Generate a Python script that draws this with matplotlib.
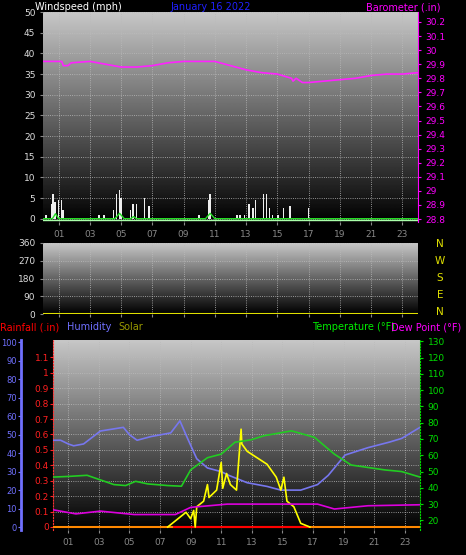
import numpy as np
import matplotlib.pyplot as plt

# ---- data ----
baro_t = [0, 1.2, 1.3, 1.6, 1.8, 3, 4, 5, 6, 7, 8, 9, 10, 11, 12, 13, 14, 15, 15.9, 16.0, 16.2, 16.6, 17, 18, 19, 20, 21, 22, 23, 24]
baro_v = [29.92, 29.92, 29.89, 29.89, 29.91, 29.92, 29.90, 29.88, 29.88, 29.89, 29.91, 29.92, 29.92, 29.92, 29.89,
          29.86, 29.84, 29.83, 29.80, 29.78, 29.80, 29.77, 29.77, 29.78, 29.79, 29.80, 29.82, 29.83, 29.83, 29.84]

gust_t = [0.2, 0.53, 0.64, 0.75, 1.0, 1.17, 1.27, 3.6, 3.9, 4.5, 4.7, 4.9, 5.0, 5.6, 5.77, 5.98, 6.5, 6.8,
          10.0, 10.6, 10.7, 12.4, 12.6, 12.9, 13.2, 13.45, 13.6, 14.1, 14.3, 14.5, 14.7, 15.05, 15.4, 15.8, 17.0]
gust_v = [1, 3.5, 6, 4, 4.5, 4.5, 2, 1, 1, 2, 6, 7, 5, 2, 3.5, 3.5, 5, 3, 1, 4.5, 6, 1, 1, 1, 3.5, 2.5, 4.5,
          6, 6, 2.5, 1, 1, 2.5, 3, 2.5]

avg_t = [0, 0.6, 0.8, 1.0, 4.6, 4.9, 5.2, 5.6, 5.8, 6.0, 10.4, 10.7, 11.0, 24]
avg_v = [0, 0, 1.2, 0, 0, 1.3, 0, 0, 0.5, 0, 0, 1.3, 0, 0]

hum_t = [0, 0.5, 1.0, 1.35, 2, 3.1, 4.6, 5.0, 5.5, 6.4, 7.7, 8.3, 8.8, 9.4, 10.1, 11.0, 11.5, 12.7, 14.0, 14.9, 16.2, 17.3, 18, 19.1, 20.6, 22, 22.8, 24]
hum_v = [47, 47, 45, 44, 45, 52, 54, 50, 47, 49, 51, 57.5, 48, 37, 32, 30, 28, 24, 22, 20, 20, 23, 28, 39, 43, 46, 48, 54]

temp_t = [0, 1, 2.23, 3.98, 4.75, 5.4, 6.2, 7.5, 8.4, 9.0, 10.1, 11.0, 11.9, 12.95, 13.8, 15.6, 17.1, 18.4, 19.5, 21.7, 22.8, 24]
temp_v = [46.6, 47, 47.7, 42, 41.4, 44, 42.4, 41.4, 41, 51, 58.5, 60.7, 68, 69.5, 72, 75, 71, 60.7, 54, 51, 50, 46.6]

dew_t = [0, 1.5, 3.1, 5.3, 8.0, 9.0, 11.4, 14.0, 17.3, 18.4, 20.6, 24]
dew_v = [26.5, 24, 25.7, 23.6, 23.6, 28, 30, 30, 30, 27, 29, 29.6]

solar_t = [7.5, 8.4, 8.7, 9.0, 9.2, 9.3, 9.4, 9.85, 10.1, 10.2, 10.7, 11.0, 11.1, 11.35, 11.6, 12.0, 12.3, 12.35,
           12.7, 14.0, 14.6, 14.9, 15.1, 15.3, 15.75, 16.2, 16.8]
solar_v = [0, 6, 8, 4.5, 9, 0, 11, 14, 23, 16, 20, 35, 21, 29, 23, 20, 53, 45, 41, 34, 27, 20, 27, 14, 11, 2, 0]

hour_ticks = list(range(1, 24, 2))
hour_labels = ['%02d' % h for h in hour_ticks]

W, H = 466, 555
fig = plt.figure(figsize=(W / 100, H / 100), dpi=100, facecolor='black')
FS = 6.5
HFS = 7
grad = np.linspace(0.78, 0.0, 256).reshape(-1, 1)


def box(x0, y0, x1, y1):
    return [x0 / W, 1 - y1 / H, (x1 - x0) / W, (y1 - y0) / H]


def style(ax):
    ax.set_facecolor('black')
    ax.imshow(grad, cmap='gray', vmin=0, vmax=1, aspect='auto', extent=[0, 1, 0, 1],
              transform=ax.transAxes, zorder=0)
    ax.set_xlim(0, 24)
    ax.set_xticks(hour_ticks)
    ax.set_xticklabels(hour_labels, color='#e0e000', fontsize=FS)
    ax.set_xticks(range(0, 25), minor=True)
    ax.grid(True, color='#bbbbbb', linestyle=':', linewidth=0.6)
    ax.tick_params(colors='#888888', length=2, labelsize=FS)
    for s in ax.spines.values():
        s.set_visible(False)


# ---- top: wind + barometer ----
ax1 = fig.add_axes(box(43, 12, 418, 222))
style(ax1)
ax1.set_ylim(-0.8, 50)
ax1.set_yticks(range(0, 51, 5))
ax1.tick_params(axis='y', labelcolor='#dddddd')
ax1.bar(gust_t, gust_v, width=0.1, color='#eeeeee', zorder=3)
ax1.plot(avg_t, avg_v, color='#22dd22', lw=1, zorder=4)
ax1.axhline(-0.4, color='#aaffaa', lw=1, zorder=4)
axb = ax1.twinx()
axb.set_ylim(28.779, 30.271)
bticks = np.round(np.arange(28.8, 30.21, 0.1), 1)
axb.set_yticks(bticks)
axb.set_yticklabels(['%g' % v for v in bticks])
axb.tick_params(colors='#ff00ff', labelsize=FS, length=2)
for s in axb.spines.values():
    s.set_visible(False)
axb.spines['right'].set_visible(True)
axb.spines['right'].set_color('#ff00ff')
axb.plot(baro_t, baro_v, color='#ff22ff', lw=1.2)
fig.text(35 / W, 1 - 7 / H, 'Windspeed (mph)', color='white', fontsize=HFS, va='center')
fig.text(211 / W, 1 - 7 / H, 'January 16 2022', color='#2020ff', fontsize=HFS, va='center', ha='center')
fig.text(440 / W, 1 - 7 / H, 'Barometer (.in)', color='#ff00ff', fontsize=HFS, va='center', ha='right')

# ---- middle: wind direction ----
ax2 = fig.add_axes(box(43, 243, 418, 314))
style(ax2)
ax2.set_ylim(0, 360)
ax2.set_yticks([0, 90, 180, 270, 360])
ax2.tick_params(axis='y', labelcolor='#dddddd')
ax2.set_xticklabels([])
ax2.axhline(2, color='#e0e000', lw=1.5, zorder=4)
for lab, yy in zip(['N', 'W', 'S', 'E', 'N'], [244, 261, 278, 295, 312]):
    fig.text(440 / W, 1 - yy / H, lab, color='#e0e000', fontsize=7.5, ha='center', va='center')

# ---- bottom: rain / humidity / solar / temp / dew ----
ax3 = fig.add_axes(box(53, 340, 420, 530))
style(ax3)
ax3.set_ylim(-0.0195, 1.213)
rticks = np.round(np.arange(0, 1.11, 0.1), 1)
ax3.set_yticks(rticks)
ax3.set_yticklabels(['%g' % v for v in rticks])
ax3.tick_params(axis='y', labelcolor='#ff2020', colors='#ff2020', pad=1)
ax3.spines['left'].set_visible(True)
ax3.spines['left'].set_color('#ff3030')
ax3.spines['left'].set_linestyle(':')
ax3.axhline(0, color='#ff8800', lw=1.5, zorder=3)
ax3.plot([7.9, 16.7], [0, 0], color='#ff0000', lw=1.5, zorder=3)

axh = ax3.twinx()
axh.yaxis.set_ticks_position('left')
axh.yaxis.set_label_position('left')
for s in axh.spines.values():
    s.set_visible(False)
axh.spines['left'].set_visible(True)
axh.spines['left'].set_position(('outward', 23))
axh.spines['left'].set_color('#7070ff')
axh.spines['left'].set_linewidth(2)
axh.set_ylim(-1.6, 101.3)
axh.set_yticks(range(0, 101, 10))
axh.tick_params(colors='#7070ff', labelsize=6, length=2, pad=1)
axh.plot(hum_t, hum_v, color='#7777ee', lw=1.2)
axh.plot(solar_t, solar_v, color='#ffff00', lw=1.2)

axt = ax3.twinx()
for s in axt.spines.values():
    s.set_visible(False)
axt.spines['right'].set_visible(True)
axt.spines['right'].set_color('#00dd00')
axt.spines['right'].set_linestyle(':')
axt.set_ylim(14.1, 130.8)
axt.set_yticks(range(20, 131, 10))
axt.tick_params(colors='#00dd00', labelsize=FS, length=2)
axt.plot(temp_t, temp_v, color='#22cc22', lw=1.2)
axt.plot(dew_t, dew_v, color='#dd00dd', lw=1.2)

fig.text(0 / W, 1 - 327 / H, 'Rainfall (.in)', color='#ff0000', fontsize=HFS, va='center')
fig.text(67 / W, 1 - 327 / H, 'Humidity', color='#7070ff', fontsize=HFS, va='center')
fig.text(118 / W, 1 - 327 / H, 'Solar', color='#999900', fontsize=HFS, va='center')
fig.text(312 / W, 1 - 327 / H, 'Temperature (°F)', color='#00ee00', fontsize=HFS, va='center')
fig.text(461 / W, 1 - 327 / H, 'Dew Point (°F)', color='#ff00ff', fontsize=HFS, va='center', ha='right')

fig.savefig('out.png', dpi=100, facecolor='black')
